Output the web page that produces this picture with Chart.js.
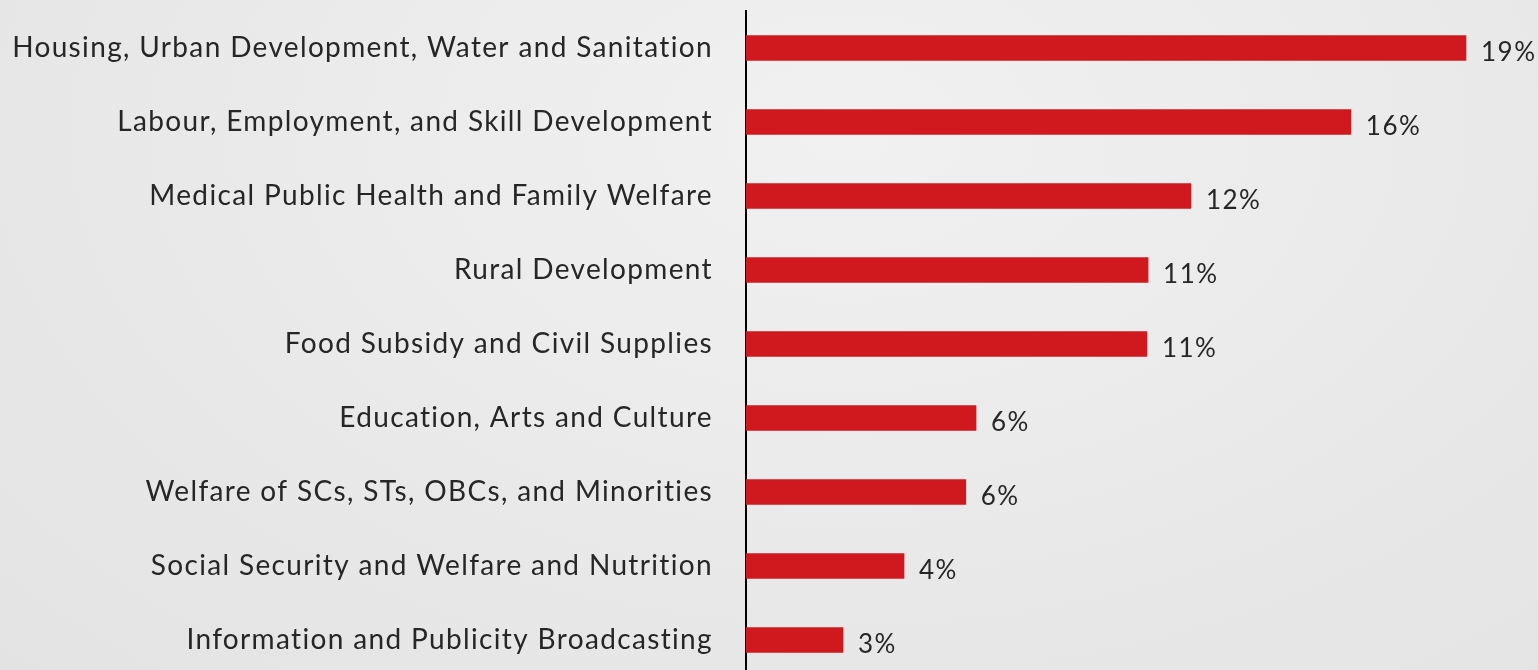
<!DOCTYPE html>
<html>
<head>
<meta charset="utf-8">
<script src="https://cdn.jsdelivr.net/npm/chart.js@4/dist/chart.umd.min.js"></script>
<style>
  html, body { margin: 0; padding: 0; overflow: hidden; }
  body {
    width: 1538px; height: 670px;
    background: radial-gradient(ellipse at 55% 20%, #f1f1f1 0%, #e9e9e9 55%, #e3e3e3 100%);
  }
  #wrap { position: absolute; left: 0; top: 0; width: 1538px; height: 680px; }
</style>
</head>
<body>
<div id="wrap"><canvas id="c" width="1538" height="680"></canvas></div>
<script>
const categories = [
  "Housing, Urban Development, Water and Sanitation",
  "Labour, Employment, and Skill Development",
  "Medical Public Health and Family Welfare",
  "Rural Development",
  "Food Subsidy and Civil Supplies",
  "Education, Arts and Culture",
  "Welfare of SCs, STs, OBCs, and Minorities",
  "Social Security and Welfare and Nutrition",
  "Information and Publicity Broadcasting"
];
const shares = [19.0, 15.96, 11.74, 10.61, 10.58, 6.07, 5.80, 4.17, 2.56];
const shareLabels = ["19%", "16%", "12%", "11%", "11%", "6%", "6%", "4%", "3%"];

const FONT = "Lato, 'Open Sans', sans-serif";

const spacing = {
  id: 'spacing',
  beforeDraw(chart) { chart.ctx.letterSpacing = '1.35px'; }
};

const valueLabels = {
  id: 'valueLabels',
  afterDatasetsDraw(chart) {
    const ctx = chart.ctx;
    const meta = chart.getDatasetMeta(0);
    ctx.save();
    ctx.letterSpacing = '1.5px';
    ctx.font = "26px " + FONT;
    ctx.fillStyle = "#262626";
    ctx.textAlign = "left";
    ctx.textBaseline = "middle";
    meta.data.forEach((bar, i) => {
      ctx.fillText(shareLabels[i], bar.x + 15, bar.y + 5);
    });
    ctx.restore();
  }
};

new Chart(document.getElementById('c'), {
  type: 'bar',
  data: {
    labels: categories,
    datasets: [{
      data: shares,
      backgroundColor: '#d0191f',
      borderWidth: 0,
      barThickness: 25,
      categoryPercentage: 1,
      barPercentage: 1
    }]
  },
  options: {
    indexAxis: 'y',
    responsive: false,
    animation: false,
    events: [],
    layout: { padding: { top: 11, bottom: 3, left: 0, right: 0 } },
    plugins: { legend: { display: false }, tooltip: { enabled: false } },
    scales: {
      x: { display: false, min: 0, max: 20.9 },
      y: {
        afterFit(scale) {
          scale.width = 746;
          scale.paddingTop = 0;
          scale.paddingBottom = 0;
        },
        grid: { display: true, color: 'rgba(0,0,0,0)', drawTicks: false },
        border: { display: true, color: '#000', width: 2 },
        ticks: {
          padding: 33,
          color: '#262626',
          font: { family: FONT, size: 28 }
        }
      }
    }
  },
  plugins: [spacing, valueLabels]
});
</script>
</body>
</html>
